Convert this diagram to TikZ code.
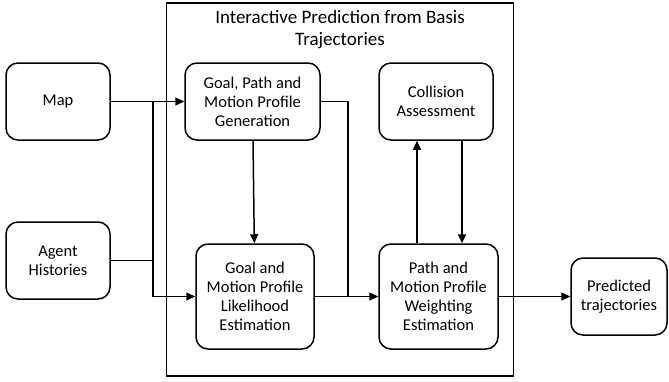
\documentclass[tikz,border=0pt]{standalone}
\usepackage{fontspec}
\setmainfont{Carlito}
\usetikzlibrary{arrows.meta}

\tikzset{
  blk/.style={draw=black, line width=1.5pt, rounded corners=12pt, align=center,
    inner sep=0pt, font=\fontsize{16.5}{19}\selectfont},
  flow/.style={-{Triangle[length=9pt,width=8pt]}, line width=1.5pt},
  wire/.style={-, line width=1.5pt}
}

\begin{document}
\begin{tikzpicture}[x=1pt, y=-1pt]
\useasboundingbox (0,0) rectangle (669,381);
\node[draw=black, line width=1.2pt, minimum width=347pt, minimum height=373pt, inner sep=0pt] (frame) at (340,189.5) {};
\node[align=center, font=\fontsize{19}{22}\selectfont] (title) at (340,29.5) {Interactive Prediction from Basis\\Trajectories};
\node[blk, minimum width=104pt, minimum height=77pt] (map) at (58,101.5) {Map};
\node[blk, minimum width=104pt, minimum height=77pt] (hist) at (58,260.5) {Agent\\Histories};
\node[blk, minimum width=135pt, minimum height=77pt] (gen) at (252.5,101.5) {Goal, Path and\\Motion Profile\\Generation};
\node[blk, minimum width=118pt, minimum height=105pt] (lik) at (255,296.5) {Goal and\\Motion Profile\\Likelihood\\Estimation};
\node[blk, minimum width=114pt, minimum height=77pt] (col) at (436,101.5) {Collision\\Assessment};
\node[blk, minimum width=119pt, minimum height=105pt] (wgt) at (438.5,296.5) {Path and\\Motion Profile\\Weighting\\Estimation};
\node[blk, minimum width=96pt, minimum height=77pt] (pred) at (619,296.5) {Predicted\\trajectories};
\coordinate (j1) at (153,101.5);
\coordinate (j2) at (348,296.5);
\draw[flow] (map) -- (gen);
\draw[wire] (hist) -- (hist -| j1);
\draw[flow] (j1) |- (lik);
\draw[flow] (gen) -- (lik);
\draw[wire] (gen.east) -| (j2);
\draw[flow] (lik) -- (wgt);
\draw[flow] ([xshift=-21.5pt]wgt.north) -- ([xshift=-19pt]col.south);
\draw[flow] ([xshift=26pt]col.south) -- ([xshift=23.5pt]wgt.north);
\draw[flow] (wgt) -- (pred);
\end{tikzpicture}
\end{document}
